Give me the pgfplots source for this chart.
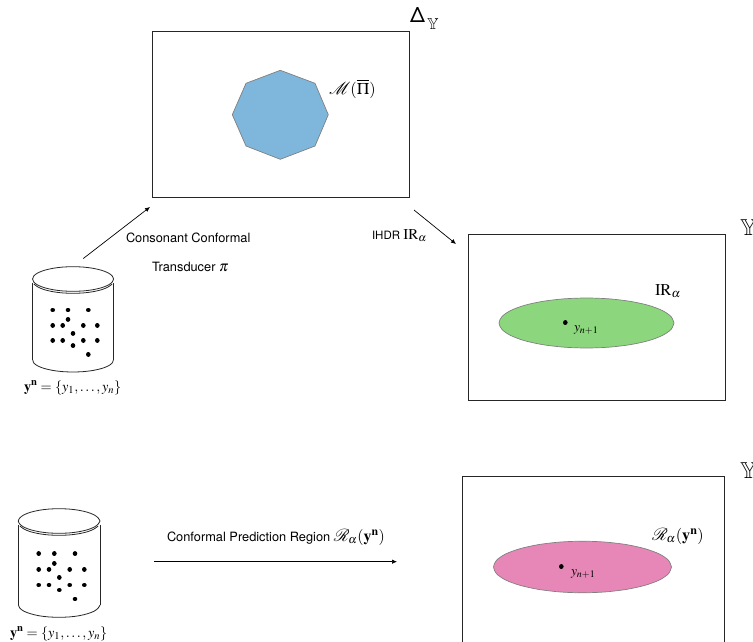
\documentclass[border=0pt]{standalone}
\usepackage{amssymb}
\usepackage{mathptmx}
\usepackage{mathrsfs}
\usepackage[no-math]{fontspec}
\setmainfont{TeX Gyre Heros}
\usepackage{pgfplots}
\pgfplotsset{compat=1.18}
\usetikzlibrary{arrows.meta}
\definecolor{polyblue}{RGB}{127,182,219}
\definecolor{regiongreen}{RGB}{140,215,125}
\definecolor{regionpink}{RGB}{231,135,184}
\definecolor{edgegray}{RGB}{128,128,128}
\newcommand{\yn}{\mathbf{y}^{\mathbf{n}}}
\newcommand{\fs}[1]{\fontsize{#1}{#1}\selectfont}
\tikzset{lbl/.style={anchor=base west,inner sep=0pt,outer sep=0pt,text=black}}
% each dot is a very short round-capped stroke, the row breaks at the nan
\pgfplotsset{dots/.style={black,line width=4.6pt,line cap=round,unbounded coords=jump}}
\begin{document}
\begin{tikzpicture}
\path[clip,use as bounding box] (0,0) rectangle (753pt,642pt);
\begin{axis}[
  scale only axis,
  width=753pt,
  height=642pt,
  xmin=0,xmax=753,
  ymin=0,ymax=642,
  y dir=reverse,
  hide axis,
  clip=false,
]
% boxes
\addplot[black!85,line width=0.9pt] coordinates {(152,31.5)(409,31.5)(409,197.5)(152,197.5)(152,31.5)(153,31.5)};
\addplot[black!85,line width=0.9pt] coordinates {(468.3,234.3)(725.3,234.3)(725.3,400.7)(468.3,400.7)(468.3,234.3)(469,234.3)};
\addplot[black!85,line width=0.9pt] coordinates {(462.7,650)(462.7,476.7)(724.7,476.7)(724.7,650)};

% octagon
\addplot[fill=polyblue,draw=edgegray,line width=0.7pt] coordinates {
(280.3,70.3)(315,83.3)(328.3,114.7)(315,146)(280.3,159.3)(246,146)(232.3,114.7)(246,83.3)(280.3,70.3)(315,83.3)};

% green region
\addplot[smooth,fill=regiongreen,draw=edgegray,line width=0.7pt] coordinates {
(674,323)(671,316.5)(662.3,310.5)(648.4,305.3)(630.25,301.35)(609.1,298.85)(586.5,298)
(563.9,298.85)(542.75,301.35)(524.6,305.3)(510.7,310.5)(502,316.5)(499,323)
(502,329.5)(510.7,335.5)(524.6,340.7)(542.75,344.65)(563.9,347.15)(586.5,348)
(609.1,347.15)(630.25,344.65)(648.4,340.7)(662.3,335.5)(671,329.5)(674,323)};

% pink region
\addplot[smooth,fill=regionpink,draw=edgegray,line width=0.7pt] coordinates {
(671.5,567)(668.5,560.3)(659.6,554.1)(645.4,548.8)(627,544.7)(605.5,542.1)(582.5,541.2)
(559.5,542.1)(538,544.7)(519.6,548.8)(505.4,554.1)(496.5,560.3)(493.5,567)
(496.5,573.7)(505.4,579.9)(519.6,585.2)(538,589.3)(559.5,591.9)(582.5,592.8)
(605.5,591.9)(627,589.3)(645.4,585.2)(659.6,579.9)(668.5,573.7)(671.5,567)};

% cylinder 1
\addplot[smooth,black!85,line width=0.8pt] coordinates {
(113.5,279)(112.1,275.8)(108.1,272.85)(101.6,270.3)(93.25,268.35)(83.5,267.1)(73,266.7)
(62.5,267.1)(52.75,268.35)(44.4,270.3)(37.9,272.85)(33.9,275.8)(32.5,279)
(33.9,282.2)(37.9,285.15)(44.4,287.7)(52.75,289.65)(62.5,290.9)(73,291.3)
(83.5,290.9)(93.25,289.65)(101.6,287.7)(108.1,285.15)(112.1,282.2)(113.5,279)};
\addplot[smooth,black!85,line width=0.8pt] coordinates {
(33.9,284)(37.9,287)(44.4,289.7)(52.75,291.65)(62.5,292.9)(73,293.3)
(83.5,292.9)(93.25,291.65)(101.6,289.7)(108.1,287)(112.1,284)};
\addplot[black!85,line width=0.8pt] coordinates {(32.8,283)(32.8,360)};
\addplot[black!85,line width=0.8pt] coordinates {(113.3,283)(113.3,360)};
\addplot[smooth,black!85,line width=0.8pt] coordinates {
(32.8,360)(33.9,363.1)(37.9,366)(44.4,368.5)(52.75,370.4)(62.5,371.6)(73,372)
(83.5,371.6)(93.25,370.4)(101.6,368.5)(108.1,366)(112.1,363.1)(113.3,360)};
\addplot[dots] coordinates {
(52.7,310)(52.72,310)(52.7,nan)(68,310)(68.02,310)(68,nan)(88.3,310)(88.32,310)(88.3,nan)
(68,319.3)(68.02,319.3)(68,nan)(52.7,325.3)(52.72,325.3)(52.7,nan)(62.7,325.3)(62.72,325.3)(62.7,nan)
(83.3,325.3)(83.32,325.3)(83.3,nan)(97.3,325.3)(97.32,325.3)(97.3,nan)(73,333.3)(73.02,333.3)(73,nan)
(52.7,340.3)(52.72,340.3)(52.7,nan)(62.7,340.3)(62.72,340.3)(62.7,nan)(83.3,340.3)(83.32,340.3)(83.3,nan)
(97.3,340.3)(97.32,340.3)(97.3,nan)(73,345.7)(73.02,345.7)(73,nan)(88.3,354.3)(88.32,354.3)};

% cylinder 2
\addplot[smooth,black!85,line width=0.8pt] coordinates {
(100,521)(98.1,517.8)(94.1,514.85)(87.6,512.3)(79.25,510.35)(69.5,509.1)(59,508.7)
(48.5,509.1)(38.75,510.35)(30.4,512.3)(23.9,514.85)(19.9,517.8)(18.3,521)
(19.9,524.2)(23.9,527.15)(30.4,529.7)(38.75,531.65)(48.5,532.9)(59,533.3)
(69.5,532.9)(79.25,531.65)(87.6,529.7)(94.1,527.15)(98.1,524.2)(100,521)};
\addplot[smooth,black!85,line width=0.8pt] coordinates {
(19.9,526)(23.9,529)(30.4,531.7)(38.75,533.65)(48.5,534.9)(59,535.3)
(69.5,534.9)(79.25,533.65)(87.6,531.7)(94.1,529)(98.1,526)};
\addplot[black!85,line width=0.8pt] coordinates {(18.5,525)(18.5,605)};
\addplot[black!85,line width=0.8pt] coordinates {(100,525)(100,605)};
\addplot[smooth,black!85,line width=0.8pt] coordinates {
(18.5,605)(19.9,608.2)(23.9,611.2)(30.4,613.7)(38.75,615.7)(48.5,616.9)(59,617.3)
(69.5,616.9)(79.25,615.7)(87.6,613.7)(94.1,611.2)(98.1,608.2)(100,605)};
\addplot[dots] coordinates {
(38.7,553.7)(38.72,553.7)(38.7,nan)(54.3,553.7)(54.32,553.7)(54.3,nan)(75,553.7)(75.02,553.7)(75,nan)
(54.3,563.3)(54.32,563.3)(54.3,nan)(38.7,569.3)(38.72,569.3)(38.7,nan)(49,569.3)(49.02,569.3)(49,nan)
(69.7,569.3)(69.72,569.3)(69.7,nan)(84.3,569.3)(84.32,569.3)(84.3,nan)(59.3,577.3)(59.32,577.3)(59.3,nan)
(38.7,585)(38.72,585)(38.7,nan)(49,585)(49.02,585)(49,nan)(69.7,585)(69.72,585)(69.7,nan)
(84.3,585)(84.32,585)(84.3,nan)(59.3,590)(59.32,590)(59.3,nan)(75,599)(75.02,599)};

% region points
\addplot[dots] coordinates {(565.3,322.7)(565.32,322.7)(565.3,nan)(561.3,566.7)(561.32,566.7)};

% arrows
\addplot[black,line width=0.7pt,-{Latex[length=5pt,width=4.5pt]}] coordinates {(83.3,258.5)(150,207)};
\addplot[black,line width=0.7pt,-{Latex[length=5pt,width=4.5pt]}] coordinates {(414,210)(456,244)};
\addplot[black,line width=0.7pt,-{Latex[length=5pt,width=4.5pt]}] coordinates {(154,561.7)(397,561.7)};

% labels
\node[lbl] at (axis cs:126,242) {\fs{12.8}Consonant Conformal};
\node[lbl] at (axis cs:152,271) {\fs{12.8}Transducer {\fs{15}$\pi$}};
\node[lbl] at (axis cs:372,239) {\fs{11.5}IHDR {\fs{15}$\mathrm{IR}_{\alpha}$}};
\node[lbl] at (axis cs:167,541) {\fs{12.8}Conformal Prediction Region {\fs{16}$\mathscr{R}_{\alpha}(\yn)$}};
\node[lbl] at (axis cs:24,391) {\fs{14.3}$\yn=\{y_1,\ldots,y_n\}$};
\node[lbl] at (axis cs:10,637) {\fs{14.3}$\yn=\{y_1,\ldots,y_n\}$};
\node[lbl] at (axis cs:329,94) {\fs{16.4}$\mathscr{M}(\overline{\Pi})$};
\node[lbl] at (axis cs:655,295) {\fs{16.5}$\mathrm{IR}_{\alpha}$};
\node[lbl] at (axis cs:574,331) {\fs{13.5}$y_{n+1}$};
\node[lbl] at (axis cs:571,575) {\fs{13.5}$y_{n+1}$};
\node[lbl] at (axis cs:652,540) {\fs{16.3}$\mathscr{R}_{\alpha}(\yn)$};
\node[lbl] at (axis cs:410,23) {\fs{21}Δ};
\node[lbl] at (axis cs:427,30) {\fs{16}$\mathbb{Y}$};
\node[lbl] at (axis cs:740,235) {\fs{23}$\mathbb{Y}$};
\node[lbl] at (axis cs:740,478) {\fs{23}$\mathbb{Y}$};
\end{axis}
\end{tikzpicture}
\end{document}
